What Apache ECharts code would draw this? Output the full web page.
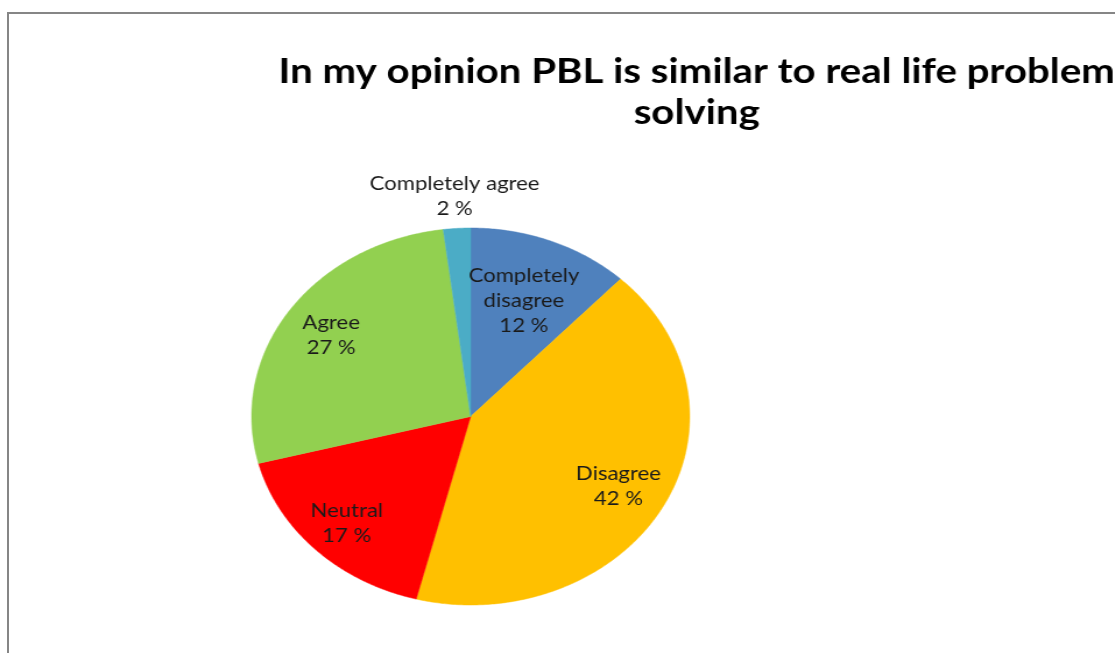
<!DOCTYPE html>
<html>
<head>
<meta charset="utf-8">
<script src="https://cdn.jsdelivr.net/npm/echarts@6/dist/echarts.min.js"></script>
<style>
  html, body { margin: 0; padding: 0; background: #fff; overflow: hidden; }
  #frame { position: absolute; left: 7px; top: 12px; width: 1200px; height: 700px;
           border-left: 2px solid #868686; border-top: 2px solid #868686; }
  /* the reference image is stretched horizontally by about 1.165 */
  #chart { position: absolute; left: 0; top: 0; width: 957px; height: 653px;
           transform: scaleX(1.165); transform-origin: 0 0; }
</style>
</head>
<body>
<div id="frame"></div>
<div id="chart"></div>
<script>
const titleText = 'In my opinion PBL is similar to real life problem\nsolving';
const categories = ['Completely disagree', 'Disagree', 'Neutral', 'Agree', 'Completely agree'];
const labelNames = ['Completely\ndisagree', 'Disagree', 'Neutral', 'Agree', 'Completely agree'];
const values = [12, 42, 17, 27, 2];
const colors = ['#4F81BD', '#FFC000', '#FF0000', '#92D050', '#4BACC6'];
const labelRadius = [0.66, 0.77, 0.80, 0.77, 1.17];

const total = values.reduce((a, b) => a + b, 0);
const starts = [];
let acc = 0;
values.forEach(v => { starts.push(acc); acc += v; });

const chart = echarts.init(document.getElementById('chart'), null, { renderer: 'canvas' });

function renderItem(params, api) {
  const i = params.dataIndex;
  const a0 = starts[i] / total * 2 * Math.PI;
  const a1 = (starts[i] + values[i]) / total * 2 * Math.PI;
  const pts = [api.coord([0, 0])];
  const steps = Math.max(4, Math.ceil((a1 - a0) / 0.01));
  for (let k = 0; k <= steps; k++) {
    const a = a0 + (a1 - a0) * k / steps;
    pts.push(api.coord([Math.sin(a), Math.cos(a)]));
  }
  const mid = (a0 + a1) / 2;
  const r = labelRadius[i];
  const lp = api.coord([r * Math.sin(mid), r * Math.cos(mid)]);
  const pct = Math.round(values[i] / total * 100);
  return {
    type: 'group',
    children: [
      { type: 'polygon', shape: { points: pts },
        style: { fill: colors[i], stroke: colors[i], lineWidth: 0.5 } },
      { type: 'text', x: lp[0], y: lp[1],
        style: { text: labelNames[i] + '\n' + pct + ' %', fill: '#1a1a1a',
                 font: '19px Lato', lineHeight: 25, align: 'center', verticalAlign: 'middle' },
        z2: 10 }
    ]
  };
}

chart.setOption({
  animation: false,
  title: {
    text: titleText,
    left: 593, top: 46, textAlign: 'center',
    textStyle: { fontFamily: 'Lato', fontWeight: 'bold', fontSize: 34.5, color: '#000', lineHeight: 41 }
  },
  grid: { left: 216, top: 228, width: 376, height: 377 },
  xAxis: { type: 'value', min: -1, max: 1, show: false },
  yAxis: { type: 'value', min: -1, max: 1, show: false },
  series: [{
    type: 'custom',
    renderItem: renderItem,
    data: categories.map((c, i) => ({ name: c, value: [i, values[i]] })),
    clip: false
  }]
});
</script>
</body>
</html>
